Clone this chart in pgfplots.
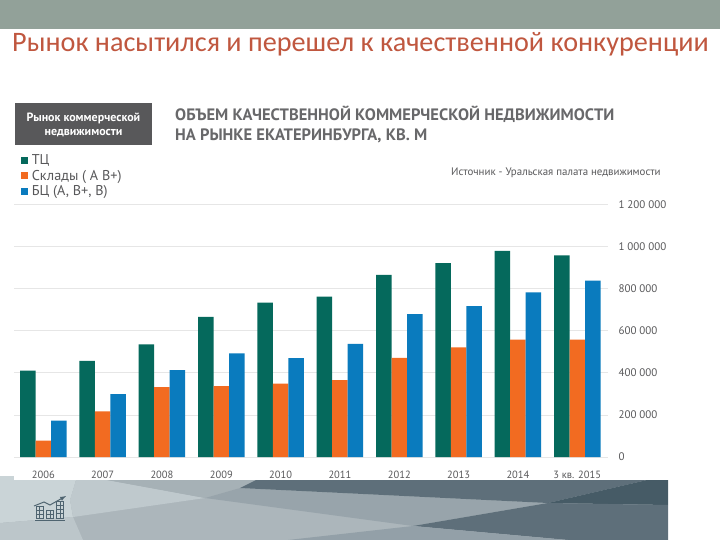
\documentclass[border=0pt]{standalone}
\usepackage{fontspec}
\usepackage{pgfplots}
\pgfplotsset{compat=1.18}
\setmainfont{PT Sans}
\newfontfamily\titlefont{Carlito}
\definecolor{cG}{HTML}{05695C}
\definecolor{cO}{HTML}{F26B21}
\definecolor{cB}{HTML}{0A7BBE}
\definecolor{cTxt}{HTML}{58585A}
\definecolor{cHead}{HTML}{68686A}
\definecolor{cTitle}{HTML}{C0573F}
\definecolor{cTop}{HTML}{92A199}
\definecolor{p1}{HTML}{ACB6BB}
\definecolor{p2}{HTML}{CAD4D7}
\definecolor{p3}{HTML}{BCC6CA}
\definecolor{p4}{HTML}{BFC9CD}
\definecolor{p5}{HTML}{A6B1B6}
\definecolor{p6}{HTML}{98A4AB}
\definecolor{p7}{HTML}{5E6F7A}
\definecolor{p8}{HTML}{465B66}
\definecolor{p9}{HTML}{93A0A8}
\definecolor{cIcon}{HTML}{4F6470}
\definecolor{cBox}{HTML}{58585A}
\definecolor{cGrid}{HTML}{E6E6E6}
\pgfplotstableread{
x tc sklad bc
0 410000 78000 173000
1 457000 217000 298000
2 535000 332000 413000
3 665000 336000 492000
4 733000 348000 470000
5 762000 365000 537000
6 865000 471000 678000
7 921000 520000 717000
8 979000 557000 782000
9 957000 557000 838000
}\chartdata
\pgfplotsset{sq/.style={legend image code/.code={\fill[##1,draw=none] (0pt,-3.5pt) rectangle (7pt,3.5pt);}}}
\begin{document}
\begin{tikzpicture}
\path[use as bounding box] (0,0) rectangle (720pt,-540pt);
\begin{scope}[x=1pt,y=-1pt]
\fill[white] (0,0) rectangle (720,540);
\fill[cTop] (0,0) rectangle (720,29);
% bottom decorative panel
\fill[p1] (0,480) rectangle (668,540);
\fill[p2] (0,476) rectangle (14,481);
\fill[p2] (0,480) -- (76,480) -- (70,500) -- (73,517) -- (0,523) -- cycle;
\fill[p3] (0,523) -- (73,517) -- (83,540) -- (0,540) -- cycle;
\fill[p4] (76,480) -- (107,480) -- (205,498) -- (73,517) -- (70,500) -- cycle;
\fill[p5] (107,480) -- (256,480) -- (240,488) -- (205,498) -- cycle;
\fill[p6] (205,498) -- (240,488) -- (548,503) -- (413,526) -- cycle;
\fill[p7] (256,480) -- (647,480) -- (548,503) -- (240,488) -- cycle;
\fill[p8] (548,503) -- (647,480) -- (668,480) -- (668,505) -- cycle;
\fill[p7] (413,526) -- (548,503) -- (668,505) -- (668,540) -- (568,540) -- cycle;
\fill[p9] (288,540) -- (413,526) -- (568,540) -- cycle;
% icon
\draw[cIcon,line width=0.8pt] (36,506.5) rectangle (43,518);
\draw[cIcon,line width=0.8pt] (46.5,510) rectangle (53.5,518);
\draw[cIcon,line width=0.8pt] (56.5,501) rectangle (63.5,518);
\draw[cIcon,line width=0.5pt] (39.5,506.5) -- (39.5,518) (36,510) -- (43,510) (36,514) -- (43,514);
\draw[cIcon,line width=0.5pt] (50,510) -- (50,518) (46.5,514) -- (53.5,514);
\draw[cIcon,line width=0.5pt] (60,501) -- (60,518) (56.5,505) -- (63.5,505) (56.5,509) -- (63.5,509) (56.5,513.5) -- (63.5,513.5);
\draw[cIcon,line width=1pt] (35,520.5) -- (65,520.5);
\draw[cIcon,line width=1pt,-latex] (34,506) -- (44,502) -- (50,505) -- (66,496);
% header box
\fill[cBox] (15,103) rectangle (152,145);
\node[white,font=\bfseries\fontsize{12}{12}\selectfont] at (83.5,118) {Рынок коммерческой};
\node[white,font=\bfseries\fontsize{12}{12}\selectfont] at (83.5,133) {недвижимости};
% titles
\node[anchor=base west,inner sep=0pt,font=\titlefont\fontsize{28.2}{30}\selectfont,text=cTitle] at (12,52) {Рынок насытился и перешел к качественной конкуренции};
\node[anchor=base west,inner sep=0pt,font=\bfseries\fontsize{16.5}{17}\selectfont,text=cHead] at (175,120.5) {ОБЪЕМ КАЧЕСТВЕННОЙ КОММЕРЧЕСКОЙ НЕДВИЖИМОСТИ};
\node[anchor=base west,inner sep=0pt,font=\bfseries\fontsize{16.5}{17}\selectfont,text=cHead] at (175,140.5) {НА РЫНКЕ ЕКАТЕРИНБУРГА, КВ. М};
\node[anchor=base west,inner sep=0pt,font=\fontsize{10.9}{11}\selectfont,text=cTxt] at (451,176) {Источник - Уральская палата недвижимости};
\end{scope}
\begin{axis}[
  at={(14pt,-457pt)},anchor=south west,
  scale only axis,width=594pt,height=252.7pt,
  ybar=0pt,bar width=15.5pt,
  xmin=-0.494,xmax=9.518,ymin=0,ymax=1200000,
  scaled y ticks=false,
  axis line style={draw=none},
  tick style={draw=none},
  ymajorgrids,grid style={cGrid,line width=0.7pt},
  xtick={0,...,9},
  xticklabels={2006,2007,2008,2009,2010,2011,2012,2013,2014,3 кв. 2015},
  ytick={0,200000,400000,600000,800000,1000000,1200000},
  yticklabels={0,200 000,400 000,600 000,800 000,1 000 000,1 200 000},
  yticklabel pos=right,
  yticklabel style={anchor=west,xshift=7pt,font=\fontsize{11}{12}\selectfont,text=cTxt},
  xticklabel style={yshift=-6pt,font=\fontsize{10.5}{12}\selectfont,text=cTxt},
  legend style={at={(0.012,1.199)},anchor=north west,draw=none,fill=none,
    font=\fontsize{14.2}{15}\selectfont,text=cTxt,inner sep=0pt,row sep=3pt,
    nodes={inner xsep=3.5pt,inner ysep=0.5pt}},
  legend cell align=left,
]
\addplot[fill=cG,draw=none,sq] table[x=x,y=tc]{\chartdata};
\addlegendentry{ТЦ}
\addplot[fill=cO,draw=none,sq] table[x=x,y=sklad]{\chartdata};
\addlegendentry{Склады ( А В+)}
\addplot[fill=cB,draw=none,sq] table[x=x,y=bc]{\chartdata};
\addlegendentry{БЦ (А, В+, В)}
\end{axis}
\end{tikzpicture}
\end{document}
